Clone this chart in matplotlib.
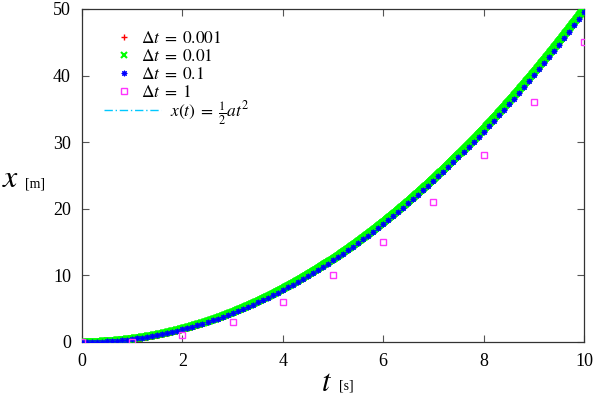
import numpy as np
import matplotlib
matplotlib.use("Agg")
import matplotlib.pyplot as plt

plt.rcParams['font.family'] = ['Liberation Serif', 'DejaVu Serif']
plt.rcParams['mathtext.fontset'] = 'stix'

# acceleration and simulation setup (explicit Euler, x0 = v0 = 0)
accel = 1.0
t_end = 10.0
step_sizes = [0.001, 0.01, 0.1]

# values read for the coarsest step (dt = 1)
t_dt1 = [0, 1, 2, 3, 4, 5, 6, 7, 8, 9, 10]
x_dt1 = [0, 0, 1, 3, 6, 10, 15, 21, 28, 36, 45]


def euler(dt):
    n = int(round(t_end / dt))
    t = np.zeros(n + 1)
    x = np.zeros(n + 1)
    v = 0.0
    for i in range(n):
        x[i + 1] = x[i] + v * dt
        v += accel * dt
        t[i + 1] = t[i] + dt
    return t, x


fig = plt.figure(figsize=(5.97, 3.99), dpi=100)
ax = fig.add_axes([0.1374, 0.1429, 0.8408, 0.8346])

t_exact = np.linspace(0, t_end, 400)
line, = ax.plot(t_exact, 0.5 * accel * t_exact ** 2, color='#00c8ff',
                ls=(0, (6, 2, 1, 2)), lw=1.0, zorder=1)

t1, x1 = euler(step_sizes[0])
t2, x2 = euler(step_sizes[1])
t3, x3 = euler(step_sizes[2])
h1, = ax.plot(t1, x1, ls='none', marker='+', color='red', ms=4, mew=1.0, zorder=2)
h2, = ax.plot(t2, x2, ls='none', marker='x', color='#00ff00', ms=5, mew=1.5, zorder=3)
h3, = ax.plot(t3, x3, ls='none', marker=(8, 2, 0), color='blue', ms=4, mew=0.8, zorder=4)
h4, = ax.plot(t_dt1, x_dt1, ls='none', marker='s', mfc='none', mec='#ff33ff',
              ms=5, mew=1.0, zorder=5)

ax.set_xlim(0, 10)
ax.set_ylim(0, 50)
ax.set_xticks([0, 2, 4, 6, 8, 10])
ax.set_yticks([0, 10, 20, 30, 40, 50])
ax.tick_params(direction='in', top=True, right=True, labelsize=13, length=5,
               width=0.8, pad=8, color='#555555')
for s in ax.spines.values():
    s.set_linewidth(0.9)
    s.set_color('#333333')

leg1 = ax.legend([h1, h2, h3, h4],
                 [r'$\Delta t\;=\;0.001$', r'$\Delta t\;=\;0.01$',
                  r'$\Delta t\;=\;0.1$', r'$\Delta t\;=\;1$'],
                 loc='upper left', bbox_to_anchor=(0.055, 0.955), frameon=False,
                 handlelength=0.8, handletextpad=0.6, labelspacing=0.1,
                 fontsize=12.5, borderaxespad=0)
ax.add_artist(leg1)
ax.legend([line], [r'$x(t)\;=\;\frac{1}{2}at^2$'], loc='upper left',
          bbox_to_anchor=(0.03, 0.75), frameon=False, handlelength=3.3,
          handletextpad=0.5, fontsize=12.5, borderaxespad=0)

fig.text(0.003, 0.55, r'$x$', fontsize=23, va='center')
fig.text(0.042, 0.54, '[m]', fontsize=10, va='center')
fig.text(0.538, 0.04, r'$t$', fontsize=22, va='center')
fig.text(0.568, 0.033, '[s]', fontsize=10, va='center')

fig.savefig('out.png', dpi=100)
